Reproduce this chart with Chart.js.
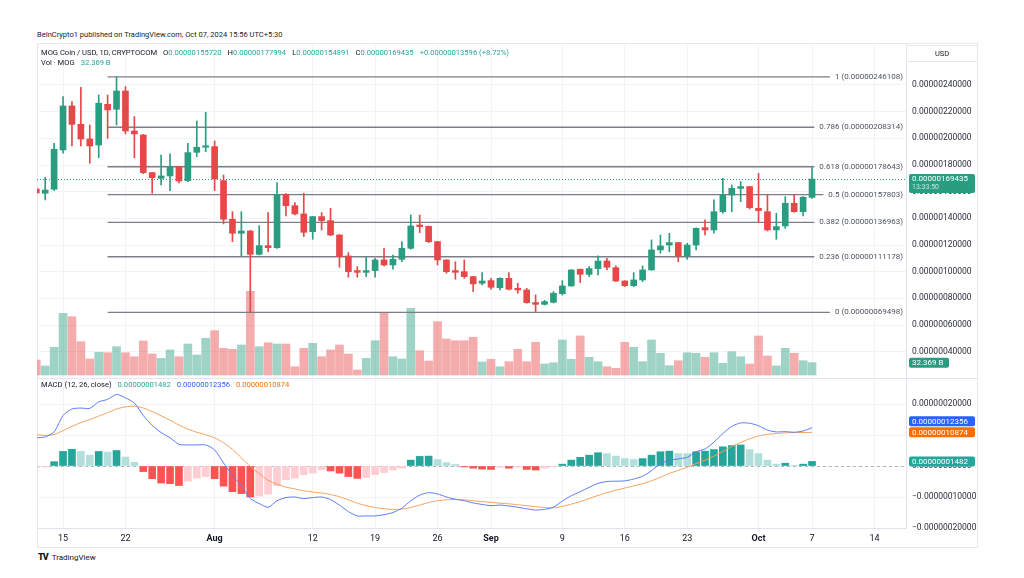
<!DOCTYPE html>
<html>
<head>
<meta charset="utf-8">
<title>MOG Coin / USD</title>
<script src="https://cdn.jsdelivr.net/npm/chart.js@4.4.1/dist/chart.umd.min.js"></script>
<style>
  html, body { margin: 0; padding: 0; background: #fff; }
  body { width: 1024px; height: 578px; position: relative; overflow: hidden; font-family: Roboto, 'Liberation Sans', Arial, sans-serif; color: #131722; }
  .abs { position: absolute; white-space: nowrap; line-height: 1; }
  #frame { position: absolute; left: 37px; top: 43px; width: 941px; height: 505px; border: 1px solid #e6e8ec; box-sizing: border-box; }
  #sep { position: absolute; left: 37px; top: 378px; width: 941px; height: 1px; background: #e0e3eb; }
  canvas { position: absolute; }
  #price { left: 37px; top: 43px; }
  #macd { left: 37px; top: 378px; }
  .pub { font-size: 7.5px; left: 37px; top: 31px; color: #222; }
  .leg { font-size: 7.6px; }
  .leg span { margin-right: 6px; }
  .up { color: #26a69a; }
  .usd { left: 906px; top: 45px; width: 72px; height: 17px; border: 1px solid #e6e8ec; box-sizing: border-box; font-size: 7.5px; text-align: center; line-height: 15px; }
  .logo { left: 38px; top: 553px; font-size: 8px; }
  .logo b { font-weight: 900; letter-spacing: -1px; margin-right: 4px; font-size: 9px; }
</style>
</head>
<body>
<div id="frame"></div>
<div id="sep"></div>
<canvas id="price" width="941" height="335"></canvas>
<canvas id="macd" width="941" height="170"></canvas>

<div class="abs pub">BeInCrypto1 published on TradingView.com, Oct 07, 2024 15:56 UTC+5:30</div>
<div class="abs leg" style="left:41px;top:49px"><span>MOG Coin / USD, 1D, CRYPTOCOM</span><span>O<i class="up" style="font-style:normal">0.00000155720</i></span><span>H<i class="up" style="font-style:normal">0.00000177994</i></span><span>L<i class="up" style="font-style:normal">0.00000154891</i></span><span>C<i class="up" style="font-style:normal">0.00000169435</i></span><span class="up">+0.00000013596 (+8.72%)</span></div>
<div class="abs leg" style="left:41px;top:59px"><span>Vol · MOG</span><span class="up">32.369 B</span></div>
<div class="abs usd">USD</div>
<div class="abs leg" style="left:41px;top:381px"><span>MACD (12, 26, close)</span><span class="up">0.00000001482</span><span style="color:#2962ff">0.00000012356</span><span style="color:#ff6d00">0.00000010874</span></div>
<div class="abs logo"><b>TV</b>TradingView</div>

<script>
// prices and MACD values are in units of 1e-8 USD, volume in billions MOG
const dates = [
  '07-12','07-13','07-14','07-15','07-16','07-17','07-18','07-19','07-20','07-21',
  '07-22','07-23','07-24','07-25','07-26','07-27','07-28','07-29','07-30','07-31',
  '08-01','08-02','08-03','08-04','08-05','08-06','08-07','08-08','08-09','08-10',
  '08-11','08-12','08-13','08-14','08-15','08-16','08-17','08-18','08-19','08-20',
  '08-21','08-22','08-23','08-24','08-25','08-26','08-27','08-28','08-29','08-30','08-31',
  '09-01','09-02','09-03','09-04','09-05','09-06','09-07','09-08','09-09','09-10',
  '09-11','09-12','09-13','09-14','09-15','09-16','09-17','09-18','09-19','09-20',
  '09-21','09-22','09-23','09-24','09-25','09-26','09-27','09-28','09-29','09-30',
  '10-01','10-02','10-03','10-04','10-05','10-06','10-07'
];

const opens = [
  162, 158.8, 161.8, 191.3, 224.3, 210.5, 199.5, 195, 225.5, 221.8,
  235.5, 205.5, 202.5, 174.3, 170, 171.8, 178.8, 168.3, 189.5, 193.3,
  193.8, 168.3, 139.3, 128.8, 130.5, 113, 119.5, 118, 158, 149.5,
  143.3, 130, 141.3, 138.3, 127.5, 111.8, 100.8, 99.5, 100.8, 108.8,
  105, 109.3, 117.5, 135, 134, 122.5, 108.8, 100.8, 100, 96.3, 91.3,
  93.3, 88, 95, 87.5, 86.3, 76.8, 75.5, 77, 83.5, 89.3,
  101.8, 98, 102.3, 108, 103, 93, 89.5, 93.8, 101.3, 116.3,
  120, 121.8, 111.8, 120, 133, 131.3, 145, 157.5, 162.5, 163.8,
  147.5, 145, 131.3, 134.3, 151.3, 145, 155.72
];
const highs = [
  163.5, 170.8, 196.3, 231.3, 227.5, 238.3, 210, 232.5, 232.5, 246.108,
  238.8, 216.3, 203, 174.5, 187.5, 188.3, 179, 196.3, 213, 219.5,
  198, 172.5, 145, 145, 131, 134.5, 144.3, 166.8, 158.5, 151.8,
  158.8, 141.5, 144.3, 147.5, 127.8, 114.3, 103.8, 110.8, 110, 117.5,
  112.5, 122.5, 142.5, 142.5, 134.3, 122.8, 109, 107.5, 108.8, 96.5, 99.3,
  95, 95.3, 99.3, 91.3, 87.5, 82.5, 78.5, 85, 93.3, 101.5,
  102, 103.8, 111.8, 110, 104.3, 93.3, 99.3, 104.3, 123.8, 127.5,
  128.8, 122, 121.3, 132.8, 138.8, 153.8, 170, 165, 167.5, 164,
  173.8, 157.5, 143.8, 156.3, 157.5, 156.3, 177.994
];
const lows = [
  157, 153.8, 161, 188.8, 194.3, 194.3, 181.3, 185.5, 200, 210,
  203.3, 185.5, 173.5, 158.8, 165, 160.8, 166.5, 167.5, 186.3, 190,
  160.8, 135.8, 122.5, 111.8, 69.498, 112.5, 115, 117.5, 141.8, 142.5,
  126.3, 124.3, 131.3, 127, 103.3, 95.8, 95.8, 96.3, 95.8, 104.3,
  101.8, 107.5, 116.8, 129.3, 121.8, 105, 98.8, 94.3, 95, 85, 90,
  86.8, 86.3, 86.3, 83.8, 76.3, 70, 75, 76.5, 82.5, 89,
  91.8, 96.3, 97.5, 101.3, 92.5, 88.8, 88.8, 92.5, 101, 113.8,
  115, 107.5, 109.3, 116.3, 127.5, 128.8, 143.8, 145, 152.5, 147,
  137.5, 130.5, 124.3, 132.5, 144.5, 141.8, 154.891
];
const closes = [
  159, 161.2, 191.8, 224.3, 210.5, 199.5, 194.3, 226.3, 221.3, 235.5,
  205.5, 203.3, 174.3, 170.5, 171.8, 178.8, 168, 189.3, 193.3, 194.3,
  169.5, 139.3, 128.8, 130.5, 113, 119.5, 118, 158, 149.5, 143.3,
  129.5, 141.3, 138.3, 127.5, 111.3, 100, 99.5, 100.8, 108.8, 105,
  109.3, 117.5, 134.3, 133.8, 122.5, 108.8, 100, 99.5, 96.3, 90.8, 93,
  88.3, 95, 86.8, 86.3, 76.8, 75.5, 77.5, 83.8, 89.3, 101.3,
  98, 102.3, 108, 103.3, 93, 89.5, 93.8, 101.3, 116.3, 119.3,
  121.8, 111.8, 120, 132.5, 131.3, 145, 157.5, 162.5, 163.8, 148,
  145.8, 131.3, 133.8, 151.3, 145, 155.8, 169.435
];
const volumes = [
  39.5, 23.7, 72.8, 162.3, 153.3, 87.6, 42.1, 59.7, 58.6, 74.4,
  58.6, 48.1, 89.4, 55.2, 43.9, 65.8, 48.1, 81.5, 52.6, 96.5,
  116.5, 70.2, 67.6, 78.9, 220, 74.4, 84.9, 81.5, 81.5, 21.8,
  70.2, 83.4, 48.1, 65.8, 78.9, 55.2, 13.2, 43.9, 90.2, 163.8,
  48.1, 42.1, 175.4, 63.9, 36.8, 140.2, 94.7, 90.2, 90.2, 99.2, 34.2,
  41.3, 21.8, 35, 67.6, 35, 86, 28.9, 32.3, 92.1, 41.3,
  102.6, 46.6, 35, 21.8, 17.6, 86, 72.9, 35, 92.1, 57.1,
  24.5, 37.6, 58.6, 57.1, 46.6, 58.6, 30.8, 61.3, 48.1, 28.9,
  102.6, 50, 23.7, 70.2, 57.1, 37.6, 32.369
];

const macdLine = [
  9.1, 9.4, 11.0, 16.3, 18.4, 18.7, 18.6, 20.7, 21.5, 23.1,
  22.0, 20.3, 16.3, 13.1, 10.8, 9.1, 7.0, 6.8, 6.8, 6.8,
  5.2, 1.0, -3.1, -6.3, -10.5, -12.1, -13.3, -11.2, -10.2, -10.0,
  -10.5, -10.2, -10.0, -10.8, -12.6, -14.7, -16.1, -16.1, -16.1, -15.7,
  -15.0, -13.6, -11.2, -9.4, -8.6, -9.0, -10.0, -10.7, -11.2, -11.9, -12.4,
  -12.8, -12.6, -12.9, -13.3, -13.8, -14.2, -14.0, -13.3, -11.3, -9.6,
  -8.3, -6.9, -5.6, -5.0, -4.9, -4.8, -4.2, -3.3, -1.5, 0.8,
  1.8, 2.3, 2.8, 4.6, 5.5, 7.7, 10.5, 12.8, 13.9, 13.8,
  13.0, 11.6, 11.0, 11.1, 10.9, 11.3, 12.356
];
const signalLine = [
  10.1, 9.9, 10.2, 11.4, 12.8, 14.0, 15.0, 16.1, 17.2, 18.4,
  19.1, 19.3, 18.7, 17.6, 16.2, 14.8, 13.2, 11.9, 10.9, 10.1,
  9.1, 7.5, 5.4, 2.6, -0.1, -2.5, -4.6, -5.9, -6.8, -7.4,
  -8.0, -8.4, -8.7, -9.2, -9.9, -10.9, -12.0, -12.8, -13.4, -13.8,
  -14.0, -13.9, -13.4, -12.6, -11.8, -11.2, -10.9, -10.8, -10.9, -11.2, -11.5,
  -11.7, -12.0, -12.2, -12.5, -12.8, -13.1, -13.4, -13.5, -13.0, -12.3,
  -11.5, -10.5, -9.5, -8.6, -7.8, -7.1, -6.4, -5.7, -4.8, -3.6,
  -2.4, -1.4, -0.4, 0.8, 1.9, 3.2, 4.7, 6.3, 7.6, 8.8,
  9.7, 10.2, 10.5, 10.7, 10.8, 10.8, 10.874
];
const histogram = [
  -0.4, -0.3, 1.4, 4.7, 5.4, 4.7, 3.5, 4.7, 4.5, 5.0,
  2.9, 1.2, -1.8, -4.1, -5.5, -5.7, -6.3, -4.9, -3.9, -3.4,
  -4.1, -6.5, -8.3, -8.9, -10.0, -9.7, -9.1, -6.3, -4.4, -3.9,
  -2.8, -2.3, -1.2, -1.6, -2.3, -3.4, -4.0, -3.7, -2.8, -2.1,
  -1.3, -0.7, 1.9, 3.1, 3.2, 2.1, 1.1, 0.5, -0.3, -0.7, -1.0,
  -1.1, -0.4, -0.7, -0.4, -1.1, -1.3, -0.7, -0.2, 0.6, 1.9,
  2.8, 3.5, 4.3, 4.0, 3.2, 2.4, 2.1, 2.4, 3.5, 4.6,
  4.8, 4.0, 4.0, 4.6, 4.8, 5.3, 6.2, 6.6, 6.8, 5.3,
  4.0, 1.9, 0.6, 0.9, 0.2, 0.6, 1.482
];

const fibRatios = [1, 0.786, 0.618, 0.5, 0.382, 0.236, 0];
const fibPrices = [246.108, 208.314, 178.643, 157.803, 136.963, 111.178, 69.498];
const fibStart = '07-20';

const priceTicks = [40, 60, 80, 100, 120, 140, 160, 180, 200, 220, 240];
const macdTicks = [20, 10, 0, -10, -20];
const tickDates = ['07-15', '07-22', '08-01', '08-12', '08-19', '08-26', '09-01', '09-09', '09-16', '09-23', '10-01', '10-07', '10-14'];
const tickLabels = ['15', '22', 'Aug', '12', '19', '26', 'Sep', '9', '16', '23', 'Oct', '7', '14'];

// view window
const X_MIN = -2.92, X_MAX = 94.54;
const P_MIN = 20.25, P_MAX = 271.5;
const M_MIN = -20, M_MAX = 28.4;
const V_MIN = -7.9, V_MAX = 873;

const FONT = "Roboto, 'Liberation Sans', Arial, sans-serif";
const UP = '#2a9d80', DOWN = '#e8474a';
const VOL_UP = 'rgba(42,157,128,0.45)', VOL_DOWN = 'rgba(232,71,74,0.45)';
const GRID = '#f2f3f6', BORDER = '#e0e3eb';

function dayIndex(md) {
  const [m, d] = md.split('-').map(Number);
  return (Date.UTC(2024, m - 1, d) - Date.UTC(2024, 6, 15)) / 86400000;
}
function fmt(v) {
  return (v < 0 ? '\u2212' : '') + (Math.abs(v) * 1e-8).toFixed(11);
}

const xs = dates.map(dayIndex);
const isUp = opens.map((o, i) => closes[i] >= o);
const last = dates.length - 1;

const histColors = histogram.map((v, i) => {
  const prev = i ? histogram[i - 1] : v;
  if (v >= 0) return v > prev ? '#26a69a' : '#b2dfdb';
  return v < prev ? '#ff5252' : '#ffcdd2';
});

function xAxis(showLabels) {
  return {
    type: 'linear', min: X_MIN, max: X_MAX, offset: false,
    afterBuildTicks: s => { s.ticks = tickDates.map(d => ({ value: dayIndex(d) })); },
    ticks: {
      display: showLabels, autoSkip: false, maxRotation: 0, padding: 5, color: '#131722',
      callback: (v, i) => tickLabels[i],
      font: c => ({ family: FONT, size: 9, weight: isNaN(Number(tickLabels[c.index])) ? 'bold' : 'normal' })
    },
    grid: { color: GRID, drawTicks: false, offset: false },
    border: { display: showLabels, color: BORDER },
    afterFit: s => { s.height = showLabels ? 20 : 0; s.paddingLeft = 0; s.paddingRight = 0; }
  };
}

function yAxis(min, max, ticks) {
  return {
    position: 'right', min: min, max: max,
    afterBuildTicks: s => { s.ticks = ticks.map(v => ({ value: v })); },
    ticks: { callback: v => fmt(v), color: '#2a2e39', font: { family: FONT, size: 8.5 }, padding: 6 },
    grid: { color: GRID, drawTicks: false },
    border: { color: BORDER },
    afterFit: s => { s.width = 72; s.paddingTop = 0; s.paddingBottom = 0; }
  };
}

function box(ctx, x, y, w, h, color) {
  ctx.fillStyle = color;
  ctx.beginPath();
  ctx.roundRect(x, y, w, h, 2);
  ctx.fill();
}

const priceExtras = {
  id: 'priceExtras',
  beforeDatasetsDraw(chart) {
    const { ctx, chartArea: a } = chart;
    const py = Math.round(chart.scales.y.getPixelForValue(closes[last])) + 0.5;
    ctx.save();
    ctx.strokeStyle = UP;
    ctx.lineWidth = 1;
    ctx.setLineDash([1, 2]);
    ctx.beginPath();
    ctx.moveTo(a.left, py);
    ctx.lineTo(a.right, py);
    ctx.stroke();
    ctx.restore();
  },
  afterDatasetsDraw(chart) {
    const { ctx, chartArea: a } = chart;
    ctx.save();
    ctx.font = `8px ${FONT}`;
    ctx.textAlign = 'right';
    ctx.textBaseline = 'middle';
    fibRatios.forEach((r, i) => {
      const yy = chart.scales.y.getPixelForValue(fibPrices[i]);
      const text = `${r} (${fmt(fibPrices[i])})`;
      const w = ctx.measureText(text).width;
      ctx.fillStyle = '#fff';
      ctx.fillRect(a.right - w - 8, yy - 4, w + 8, 8);
      ctx.fillStyle = '#4c525e';
      ctx.fillText(text, a.right - 3, yy);
    });
    ctx.restore();
  },
  afterDraw(chart) {
    const { ctx, chartArea: a } = chart;
    const x0 = a.right + 3;
    const py = chart.scales.y.getPixelForValue(closes[last]);
    const vy = chart.scales.yv.getPixelForValue(volumes[last]);
    ctx.save();
    ctx.textAlign = 'left';
    ctx.textBaseline = 'middle';
    box(ctx, x0, py - 5, 66, 19, UP);
    ctx.fillStyle = '#fff';
    ctx.font = `8px ${FONT}`;
    ctx.fillText(fmt(closes[last]), x0 + 3, py);
    ctx.fillStyle = 'rgba(255,255,255,0.75)';
    ctx.font = `7px ${FONT}`;
    ctx.fillText('13:33:50', x0 + 3, py + 8.5);
    box(ctx, x0, vy - 5, 40, 10, UP);
    ctx.fillStyle = '#fff';
    ctx.font = `8px ${FONT}`;
    ctx.fillText(volumes[last].toFixed(3) + ' B', x0 + 3, vy);
    ctx.restore();
  }
};

const macdExtras = {
  id: 'macdExtras',
  beforeDatasetsDraw(chart) {
    const { ctx, chartArea: a } = chart;
    const zy = Math.round(chart.scales.y.getPixelForValue(0)) + 0.5;
    ctx.save();
    ctx.strokeStyle = '#b2b5be';
    ctx.lineWidth = 1;
    ctx.setLineDash([3, 3]);
    ctx.beginPath();
    ctx.moveTo(a.left, zy);
    ctx.lineTo(a.right, zy);
    ctx.stroke();
    ctx.restore();
  },
  afterDraw(chart) {
    const { ctx, chartArea: a } = chart;
    const y = chart.scales.y;
    const x0 = a.right + 3;
    const h = 10;
    const oTop = y.getPixelForValue(signalLine[last]) - h / 2;
    let bTop = y.getPixelForValue(macdLine[last]) - h / 2;
    if (bTop + h > oTop) bTop = oTop - h - 1;
    const hTop = y.getPixelForValue(histogram[last]) - h / 2;
    const items = [
      [bTop, '#2962ff', macdLine[last]],
      [oTop, '#ff6d00', signalLine[last]],
      [hTop, '#26a69a', histogram[last]]
    ];
    ctx.save();
    ctx.font = `8px ${FONT}`;
    ctx.textAlign = 'left';
    ctx.textBaseline = 'middle';
    items.forEach(([top, color, v]) => {
      box(ctx, x0, top, 66, h, color);
      ctx.fillStyle = '#fff';
      ctx.fillText(fmt(v), x0 + 3, top + h / 2 + 0.5);
    });
    ctx.restore();
  }
};

const common = {
  responsive: false,
  animation: false,
  events: [],
  layout: { padding: 0 },
  plugins: { legend: { display: false }, tooltip: { enabled: false } },
  datasets: { bar: { grouped: false } }
};

new Chart(document.getElementById('price'), {
  type: 'bar',
  data: {
    datasets: [
      {
        label: 'Volume', yAxisID: 'yv', order: 10, barThickness: 8,
        data: xs.map((x, i) => ({ x: x, y: volumes[i] })),
        backgroundColor: isUp.map(u => u ? VOL_UP : VOL_DOWN)
      },
      ...fibPrices.map((p, i) => ({
        type: 'line', label: 'Fib ' + fibRatios[i], yAxisID: 'y', order: 5,
        data: [{ x: dayIndex(fibStart), y: p }, { x: X_MAX, y: p }],
        borderColor: '#7b7e86', borderWidth: 1.4, pointRadius: 0
      })),
      {
        label: 'Wicks', yAxisID: 'y', order: 2, barThickness: 1,
        data: xs.map((x, i) => ({ x: x, y: [lows[i], highs[i]] })),
        backgroundColor: isUp.map(u => u ? UP : DOWN)
      },
      {
        label: 'Bodies', yAxisID: 'y', order: 1, barThickness: 6, minBarLength: 1.5,
        data: xs.map((x, i) => ({ x: x, y: [opens[i], closes[i]] })),
        backgroundColor: isUp.map(u => u ? UP : DOWN)
      }
    ]
  },
  options: Object.assign({}, common, {
    scales: {
      x: xAxis(false),
      y: yAxis(P_MIN, P_MAX, priceTicks),
      yv: { display: false, min: V_MIN, max: V_MAX }
    }
  }),
  plugins: [priceExtras]
});

new Chart(document.getElementById('macd'), {
  type: 'bar',
  data: {
    datasets: [
      {
        type: 'line', label: 'MACD', order: 1,
        data: xs.map((x, i) => ({ x: x, y: macdLine[i] })),
        borderColor: '#5b7cf2', borderWidth: 1, pointRadius: 0, tension: 0.25
      },
      {
        type: 'line', label: 'Signal', order: 2,
        data: xs.map((x, i) => ({ x: x, y: signalLine[i] })),
        borderColor: '#f5a05c', borderWidth: 1, pointRadius: 0, tension: 0.25
      },
      {
        label: 'Histogram', order: 3, barThickness: 7,
        data: xs.map((x, i) => ({ x: x, y: histogram[i] })),
        backgroundColor: histColors
      }
    ]
  },
  options: Object.assign({}, common, {
    scales: {
      x: xAxis(true),
      y: yAxis(M_MIN, M_MAX, macdTicks)
    }
  }),
  plugins: [macdExtras]
});
</script>
</body>
</html>
